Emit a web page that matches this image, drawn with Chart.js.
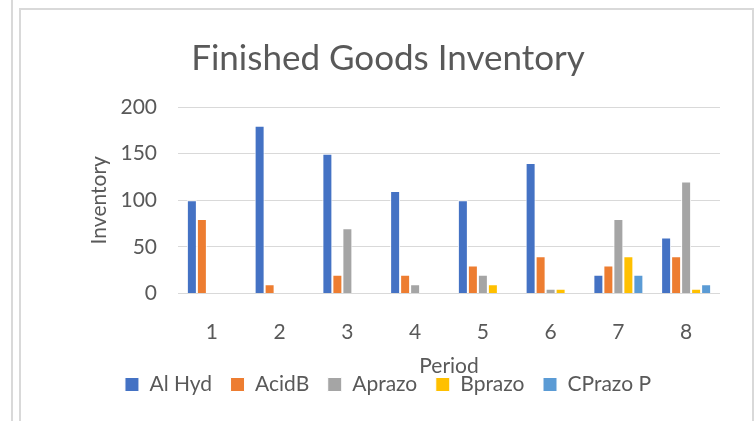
<!DOCTYPE html>
<html>
<head>
<meta charset="utf-8">
<script src="https://cdn.jsdelivr.net/npm/chart.js@4"></script>
<style>
  html, body { margin: 0; padding: 0; background: #fff; overflow: hidden; }
  #wrap { position: relative; width: 756px; height: 421px; }
  #sideLine { position: absolute; left: 11px; top: 0; width: 2px; height: 421px; background: #d9d9d9; }
  #frame { position: absolute; left: 19px; top: 8px; width: 731px; height: 430px; border: 2px solid #d9d9d9; }
  #chart { position: absolute; left: 0; top: 0; }
</style>
</head>
<body>
<div id="wrap">
  <div id="sideLine"></div>
  <div id="frame"></div>
  <canvas id="chart" width="756" height="421"></canvas>
</div>
<script>
var periods = ['1', '2', '3', '4', '5', '6', '7', '8'];
var alHyd = [100, 180, 150, 110, 100, 140, 20, 60];
var acidB = [80, 10, 20, 20, 30, 40, 30, 40];
var aprazo = [0, 0, 70, 10, 20, 5, 80, 120];
var bprazo = [0, 0, 0, 0, 10, 5, 40, 5];
var cprazoP = [0, 0, 0, 0, 0, 0, 20, 10];

var seriesNames = ['Al Hyd', 'AcidB', 'Aprazo', 'Bprazo', 'CPrazo P'];
var seriesValues = [alHyd, acidB, aprazo, bprazo, cprazoP];
var colors = ['#4472c4', '#ed7d31', '#a5a5a5', '#ffc000', '#5b9bd5'];

var textColor = '#595959';
var gridColor = '#d9d9d9';
var fontFamily = 'Lato, "Open Sans", sans-serif';

var datasets = [];
seriesNames.forEach(function (name, i) {
  datasets.push({
    label: name,
    data: seriesValues[i],
    backgroundColor: colors[i],
    borderColor: '#ffffff',
    borderWidth: 1,
    categoryPercentage: 0.738,
    barPercentage: 1
  });
});

var ctx = document.getElementById('chart').getContext('2d');

window.inventoryChart = new Chart(ctx, {
  type: 'bar',
  data: {
    labels: periods,
    datasets: datasets
  },
  options: {
    responsive: false,
    animation: false,
    devicePixelRatio: 1,
    layout: {
      padding: { left: 56, right: 36, top: 0, bottom: 16 }
    },
    plugins: {
      title: {
        display: true,
        text: 'Finished Goods Inventory',
        color: textColor,
        font: { family: fontFamily, size: 35, weight: 'normal' },
        padding: { top: 38, bottom: 27 }
      },
      legend: {
        position: 'bottom',
        labels: {
          color: textColor,
          font: { family: fontFamily, size: 21 },
          boxWidth: 14,
          boxHeight: 14,
          padding: 18.5
        }
      },
      tooltip: { enabled: false }
    },
    scales: {
      x: {
        grid: { display: false },
        border: { display: false },
        ticks: {
          color: textColor,
          font: { family: fontFamily, size: 21 },
          padding: 18
        },
        title: {
          display: true,
          text: 'Period',
          color: textColor,
          font: { family: fontFamily, size: 21 },
          padding: { top: 0, bottom: -23 }
        },
        afterFit: function (scale) {
          scale.height = 62;
        }
      },
      y: {
        min: 0,
        max: 200,
        grid: { color: gridColor, lineWidth: 1, drawTicks: false },
        border: { display: false },
        ticks: {
          stepSize: 50,
          color: textColor,
          font: { family: fontFamily, size: 21 },
          padding: 21
        },
        title: {
          display: true,
          text: 'Inventory',
          color: textColor,
          font: { family: fontFamily, size: 21 },
          padding: { top: 31, bottom: 0 }
        },
        afterFit: function (scale) {
          scale.width = 122;
        }
      }
    }
  }
});
</script>
</body>
</html>
